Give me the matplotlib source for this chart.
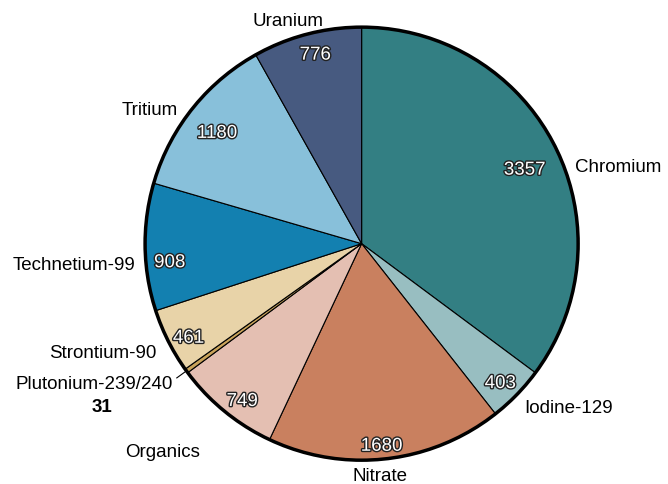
import matplotlib.pyplot as plt
import matplotlib.patheffects as pe
import numpy as np

plt.rcParams['font.family'] = ['Liberation Sans', 'DejaVu Sans']

names = ["Chromium", "Iodine-129", "Nitrate", "Organics", "Plutonium-239/240",
         "Strontium-90", "Technetium-99", "Tritium", "Uranium"]
values = [3357, 403, 1680, 749, 31, 461, 908, 1180, 776]
colors = ["#337f83", "#98bec1", "#c9805f", "#e4bfb2", "#c9a35a",
          "#e8d3a8", "#1380b0", "#88c0da", "#475a80"]

fig = plt.figure(figsize=(6.68, 4.85), dpi=100)
ax = fig.add_axes([0, 0, 1, 1])

wedges, _ = ax.pie(values, colors=colors, startangle=90, counterclock=False,
                   radius=1.0, wedgeprops=dict(edgecolor='black', linewidth=0.8))
ax.add_patch(plt.Circle((0, 0), 1.0, fill=False, edgecolor='black', linewidth=2.5, zorder=5))
ax.set_aspect('equal')
ax.set_xlim(-1.67, 1.415)
ax.set_ylim(-1.11, 1.13)
ax.axis('off')

outline = [pe.withStroke(linewidth=2, foreground='#222222')]
# nudges (pixels) so labels sit where the original put them
name_nudge = {"Chromium": (6, -27), "Iodine-129": (-3, -2), "Nitrate": (-8, -2),
              "Organics": (-15, -29), "Plutonium-239/240": (-1, -4),
              "Strontium-90": (2, -5), "Technetium-99": (5, -17),
              "Tritium": (-2, -10), "Uranium": (-15, -1)}
value_nudge = {3357: (-11, -14), 403: (-1, -4), 1680: (-2, -9), 749: (4, -7),
               461: (1, -7), 908: (3, -16), 1180: (8, -11), 776: (3, 0)}

for w, name, v in zip(wedges, names, values):
    ang = np.deg2rad((w.theta1 + w.theta2) / 2)
    c, s = np.cos(ang), np.sin(ang)
    if v > 100:
        ax.annotate(str(v), (0.9 * c, 0.9 * s), xytext=value_nudge.get(v, (0, 0)),
                    textcoords='offset pixels', ha='center', va='center', fontsize=13.5,
                    color='white', path_effects=outline, zorder=6)
    ha = 'left' if c > 0.3 else ('right' if c < -0.3 else 'center')
    ax.annotate(name, (1.07 * c, 1.07 * s), xytext=name_nudge.get(name, (0, 0)),
                textcoords='offset pixels', ha=ha, va='center', fontsize=13.5)
    if name == "Plutonium-239/240":
        ax.plot([c, 1.055 * c], [s, 1.055 * s], color='black', lw=0.8, zorder=6)
        ax.annotate(str(v), (1.07 * c, 1.07 * s), xytext=(-72, -27),
                    textcoords='offset pixels', ha='center', va='center',
                    fontsize=13.5, fontweight='bold')

fig.savefig("out.png", dpi=100)
